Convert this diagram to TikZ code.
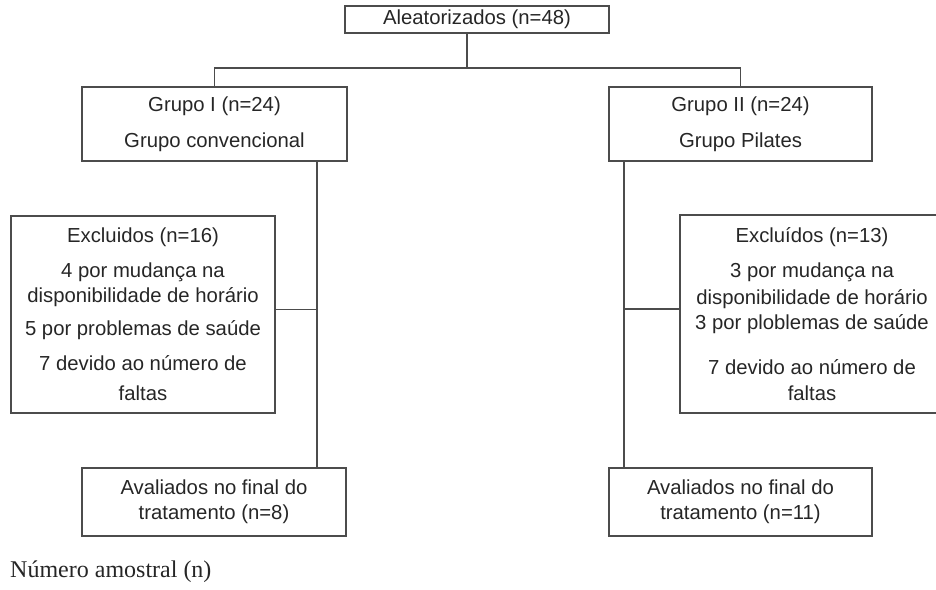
\documentclass[tikz,border=0pt]{standalone}
\usepackage{fontspec}
\setmainfont{Liberation Sans}
\newfontfamily\notafont{Liberation Serif}
\begin{document}
\begin{tikzpicture}[x=1pt,y=-1pt,
    caixa/.style={draw=black!70,line width=1.6pt,inner sep=0pt,align=center,
      font=\fontsize{20.3}{25}\selectfont,text=black!85},
    linha/.style={draw=black!70,line width=1.6pt}]
  \useasboundingbox (0,0) rectangle (936,589);
  \node[caixa,minimum width=264,minimum height=27] (aleat) at (477,19.5) {Aleatorizados (n=48)};
  \node[caixa,minimum width=265,minimum height=74] (g1) at (214.5,124) {Grupo I (n=24)\\[11pt]Grupo convencional};
  \node[caixa,minimum width=263,minimum height=74] (g2) at (740.5,124) {Grupo II (n=24)\\[11pt]Grupo Pilates};
  \node[caixa,minimum width=264,minimum height=197] (exc1) at (143,314.5)
    {Excluidos (n=16)\\[10pt]4 por mudança na\\disponibilidade de horário\\[8pt]5 por problemas de saúde\\[10pt]7 devido ao número de\\[5pt]faltas};
  \node[caixa,minimum width=264,minimum height=198] (exc2) at (812,314)
    {Excluídos (n=13)\\[10pt]3 por mudança na\\[2pt]disponibilidade de horário\\3 por ploblemas de saúde\\[20pt]7 devido ao número de\\[1pt]faltas};
  \node[caixa,minimum width=264,minimum height=68] (av1) at (214,502) {Avaliados no final do\\tratamento (n=8)};
  \node[caixa,minimum width=263,minimum height=68] (av2) at (740.5,502) {Avaliados no final do\\tratamento (n=11)};
  \node[anchor=west,inner sep=0pt,font=\notafont\fontsize{24}{28}\selectfont,text=black!85] (nota) at (10,572) {Número amostral (n)};

  \coordinate (ramo) at (467,68);
  \coordinate (tronco1) at (317,0);
  \coordinate (tronco2) at (624,0);
  \draw[linha] (aleat.south -| ramo) -- (ramo);
  \draw[linha] (g1.north) |- (ramo) -| (g2.north);
  \draw[linha] (g1.south -| tronco1) -- (av1.north -| tronco1);
  \draw[linha] (g2.south -| tronco2) -- (av2.north -| tronco2);
  \draw[linha] ([yshift=5pt]exc1.east) -- ([yshift=5pt]exc1.east -| tronco1);
  \draw[linha] ([yshift=5pt]exc2.west) -- ([yshift=5pt]exc2.west -| tronco2);
\end{tikzpicture}
\end{document}
